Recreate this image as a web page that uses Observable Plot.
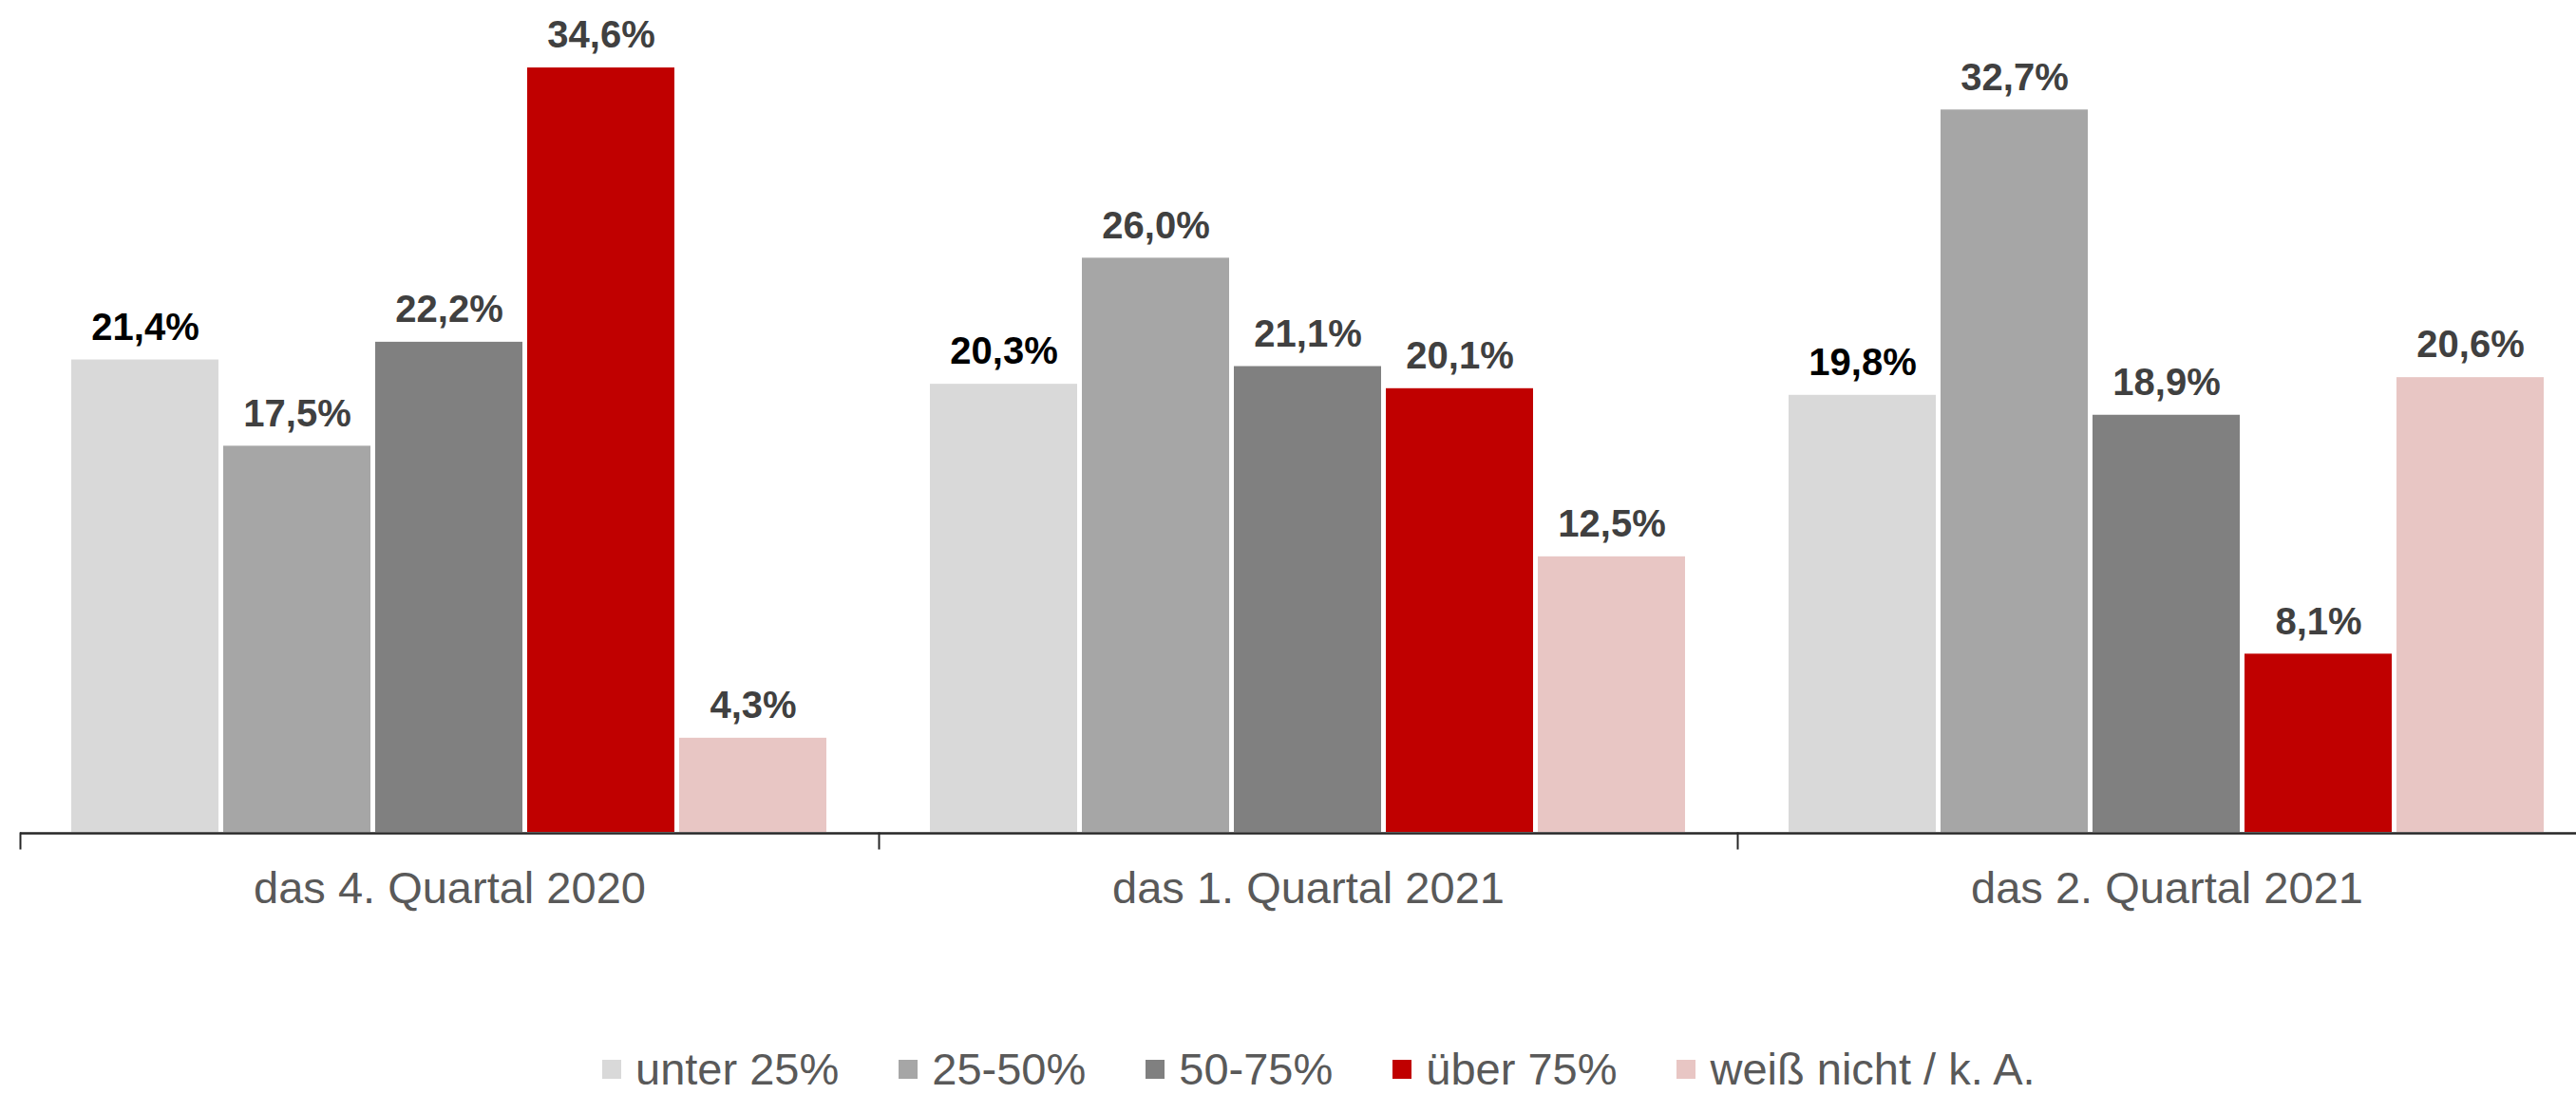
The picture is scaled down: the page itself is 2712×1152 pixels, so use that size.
<!DOCTYPE html>
<html>
<head>
<meta charset="utf-8">
<script src="https://cdn.jsdelivr.net/npm/d3@7"></script>
<script src="https://cdn.jsdelivr.net/npm/@observablehq/plot@0.6"></script>
<style>
  html, body { margin: 0; padding: 0; background: #fff; }
  #wrap { position: relative; width: 2712px; height: 1152px; overflow: hidden; font-family: "Liberation Sans", Arial, sans-serif; }
  #chart { position: absolute; left: 0; top: 0; width: 2733px; }
  #chart svg { max-width: none !important; }
  #legend { position: absolute; left: 634px; top: 1100px; display: flex; align-items: center; font-size: 47px; line-height: 52px; height: 52px; color: #595959; white-space: nowrap; }
  .item { display: flex; align-items: center; margin-right: 63px; }
  .sw { width: 20px; height: 20px; margin-right: 15px; }
</style>
</head>
<body>
<div id="wrap">
  <div id="chart"></div>
  <div id="legend"></div>
</div>
<script>
const quarters = ["das 4. Quartal 2020", "das 1. Quartal 2021", "das 2. Quartal 2021"];
const categories = ["unter 25%", "25-50%", "50-75%", "über 75%", "weiß nicht / k. A."];
const unter25 = [21.4, 20.3, 19.8];
const p25bis50 = [17.5, 26.0, 32.7];
const p50bis75 = [22.2, 21.1, 18.9];
const ueber75 = [34.6, 20.1, 8.1];
const weissNicht = [4.3, 12.5, 20.6];
const colors = ["#D9D9D9", "#A6A6A6", "#808080", "#C00000", "#E8C6C4"];

const series = [unter25, p25bis50, p50bis75, ueber75, weissNicht];
const data = [];
quarters.forEach((q, qi) => {
  categories.forEach((c, ci) => {
    data.push({quarter: q, category: c, value: series[ci][qi]});
  });
});
const fmt = v => v.toFixed(1).replace(".", ",") + "%";

const chart = Plot.plot({
  width: 2733,
  height: 1000,
  marginLeft: 21,
  marginRight: 0,
  marginTop: 0,
  marginBottom: 123,
  style: {fontFamily: "'Liberation Sans', Arial, sans-serif", background: "transparent", maxWidth: "none"},
  fx: {domain: quarters, padding: 0, label: null},
  x: {domain: categories, paddingInner: 0.03, paddingOuter: 0.33, axis: null},
  y: {domain: [0, 37.65], axis: null},
  color: {domain: categories, range: colors},
  marks: [
    Plot.barY(data, {fx: "quarter", x: "category", y: "value", fill: "category", insetBottom: 1}),
    Plot.text(data, {
      filter: d => d.category === categories[0],
      fx: "quarter", x: "category", y: "value", text: d => fmt(d.value),
      dy: -34, fontSize: 40, fontWeight: "bold", fill: "#000000"
    }),
    Plot.text(data, {
      filter: d => d.category !== categories[0],
      fx: "quarter", x: "category", y: "value", text: d => fmt(d.value),
      dy: -34, fontSize: 40, fontWeight: "bold", fill: "#404040"
    }),
    Plot.ruleY([0], {stroke: "#262626", strokeWidth: 2.5}),
    Plot.frame({anchor: "left", stroke: "#262626", strokeWidth: 2, insetTop: 877, insetBottom: -16}),
    Plot.axisFx({anchor: "bottom", tickSize: 0, tickPadding: 40, fontSize: 47, color: "#595959", label: null})
  ]
});
document.getElementById("chart").appendChild(chart);

const legend = document.getElementById("legend");
categories.forEach((c, i) => {
  const item = document.createElement("div");
  item.className = "item";
  const sw = document.createElement("div");
  sw.className = "sw";
  sw.style.background = colors[i];
  const t = document.createElement("span");
  t.textContent = c;
  item.appendChild(sw);
  item.appendChild(t);
  legend.appendChild(item);
});
</script>
</body>
</html>
